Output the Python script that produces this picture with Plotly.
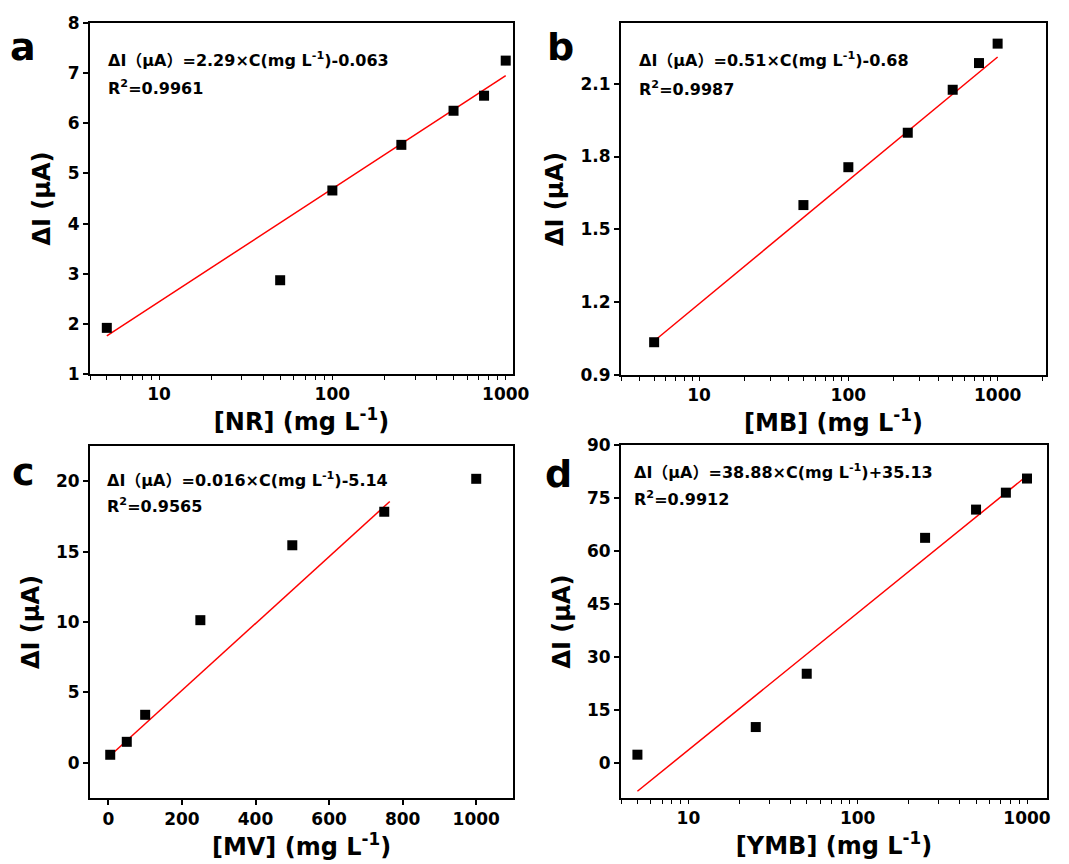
import plotly.graph_objects as go

# ---------------- data ----------------
conc_log = [5, 50, 100, 250, 500, 750, 1000]
nr_dI = [1.92, 2.87, 4.66, 5.57, 6.25, 6.55, 7.25]
nr_fit_x = [5, 1000]
nr_fit_y = [1.76, 6.95]

mb_dI = [1.035, 1.60, 1.756, 1.898, 2.075, 2.185, 2.265]
mb_fit_x = [5, 1000]
mb_fit_y = [1.04, 2.21]

mv_conc = [5, 50, 100, 250, 500, 750, 1000]
mv_dI = [0.57, 1.49, 3.41, 10.13, 15.45, 17.83, 20.17]
mv_fit_x = [15, 765]
mv_fit_y = [0.75, 18.56]

ymb_conc = [5, 25, 50, 250, 500, 750, 1000]
ymb_dI = [2.27, 10.1, 25.2, 63.7, 71.7, 76.5, 80.5]
ymb_fit_x = [5, 1000]
ymb_fit_y = [-8.1, 81.3]

panel_letters = ["a", "b", "c", "d"]
x_titles = ["[NR] (mg L<sup>-1</sup>)", "[MB] (mg L<sup>-1</sup>)",
            "[MV] (mg L<sup>-1</sup>)", "[YMB] (mg L<sup>-1</sup>)"]
y_title = "ΔI (μA)"
equations = ["ΔI（μA）=2.29×C(mg L<sup>-1</sup>)-0.063",
             "ΔI（μA）=0.51×C(mg L<sup>-1</sup>)-0.68",
             "ΔI（μA）=0.016×C(mg L<sup>-1</sup>)-5.14",
             "ΔI（μA）=38.88×C(mg L<sup>-1</sup>)+35.13"]
r2_texts = ["R<sup>2</sup>=0.9961", "R<sup>2</sup>=0.9987",
            "R<sup>2</sup>=0.9565", "R<sup>2</sup>=0.9912"]
log_major_ticks = [10, 100, 1000]
log_major_text = ["10", "100", "1000"]

# ---------------- layout helpers ----------------
OFF = 8                      # page body margin in the browser
W, H = 1069 - OFF, 864 - OFF  # figure size so the page fits the window
FONT = "DejaVu Sans, Noto Sans CJK SC, sans-serif"


def sx(px):
    return (px - OFF) / W


def sy(py):
    return 1 - (py - OFF) / H


# screen pixel boxes: (left, right, top, bottom)
boxes = [(90, 513, 23, 374), (621, 1046, 23, 375),
         (90, 513, 446, 798), (621, 1047, 445, 798)]

fig = go.Figure()

series = [
    (conc_log, nr_dI, nr_fit_x, nr_fit_y),
    (conc_log, mb_dI, mb_fit_x, mb_fit_y),
    (mv_conc, mv_dI, mv_fit_x, mv_fit_y),
    (ymb_conc, ymb_dI, ymb_fit_x, ymb_fit_y),
]

x_types = ["log", "log", "linear", "log"]

for i, (xs, ys, fx, fy) in enumerate(series):
    xa = "x" if i == 0 else f"x{i+1}"
    ya = "y" if i == 0 else f"y{i+1}"
    fig.add_trace(go.Scatter(x=fx, y=fy, mode="lines", xaxis=xa, yaxis=ya,
                             line=dict(color="#ff0000", width=1.5),
                             showlegend=False, hoverinfo="skip"))
    fig.add_trace(go.Scatter(x=xs, y=ys, mode="markers", xaxis=xa, yaxis=ya,
                             marker=dict(symbol="square", size=10, color="black"),
                             showlegend=False))

tickfont = dict(family=FONT, size=17, color="black", weight="bold")
titlefont = dict(family=FONT, size=24, color="black", weight="bold")

x_ranges = [[0.602, 3.042], [0.477, 3.324], [-50, 1100], [0.602, 3.118]]
y_ranges = [[1, 8], [0.9, 2.35], [-2.5, 22.5], [-10, 90]]
y_dticks = [1, 0.3, 5, 15]
y_tick0 = [1, 0.9, 0, 0]

# tick positions for log axes: decades labelled, 2..9 of each decade unlabelled
minor_vals = [m * 10 ** d for d in range(0, 4) for m in range(2, 10)]
log_tickvals = log_major_ticks + minor_vals
log_ticktext = log_major_text + [""] * len(minor_vals)

layout = dict(width=W, height=H,
              margin=dict(l=0, r=0, t=0, b=0, autoexpand=False),
              paper_bgcolor="white", plot_bgcolor="white", showlegend=False)

for i, (l, r, t, b) in enumerate(boxes):
    xk = "xaxis" if i == 0 else f"xaxis{i+1}"
    yk = "yaxis" if i == 0 else f"yaxis{i+1}"
    ya = "y" if i == 0 else f"y{i+1}"
    xa = "x" if i == 0 else f"x{i+1}"
    xdom = [sx(l), sx(r)]
    ydom = [sy(b), sy(t)]
    xax = dict(domain=xdom, anchor=ya, type=x_types[i], range=x_ranges[i],
               automargin=False,
               showline=True, linecolor="black", linewidth=2, mirror=True,
               showgrid=False, zeroline=False, ticks="outside", ticklen=5,
               tickwidth=1.5, tickcolor="black", tickfont=tickfont,
               title=dict(text=x_titles[i], font=titlefont, standoff=0))
    if x_types[i] == "log":
        xax.update(tickmode="array", tickvals=log_tickvals,
                   ticktext=log_ticktext, ticklen=4, tickwidth=1.3)
    else:
        xax.update(dtick=200, tick0=0)
    yax = dict(domain=ydom, anchor=xa, range=y_ranges[i],
               dtick=y_dticks[i], tick0=y_tick0[i], automargin=False,
               showline=True, linecolor="black", linewidth=2, mirror=True,
               showgrid=False, zeroline=False, ticks="outside", ticklen=5,
               tickwidth=1.5, tickcolor="black", tickfont=tickfont,
               title=dict(text=y_title, font=titlefont, standoff=10))
    layout[xk] = xax
    layout[yk] = yax

fig.update_layout(**layout)

# panel letters
letter_pos = [(23, 47), (560, 47), (23, 472), (558, 474)]
for (px, py), letter in zip(letter_pos, panel_letters):
    fig.add_annotation(x=sx(px), y=sy(py), xref="paper", yref="paper",
                       text=letter, showarrow=False, xanchor="center",
                       yanchor="middle",
                       font=dict(family=FONT, size=38, color="black",
                                 weight="bold"))

# equations
eq_pos = [(106, 60, 87), (637, 60, 88), (105, 479, 505), (632, 471, 498)]
annfont = dict(family=FONT, size=16, color="black", weight="bold")
for (px, py1, py2), eq, r2 in zip(eq_pos, equations, r2_texts):
    fig.add_annotation(x=sx(px), y=sy(py1), xref="paper", yref="paper",
                       text=eq, showarrow=False, xanchor="left",
                       yanchor="middle", font=annfont)
    fig.add_annotation(x=sx(px), y=sy(py2), xref="paper", yref="paper",
                       text=r2, showarrow=False, xanchor="left",
                       yanchor="middle", font=annfont)

fig.write_html("out.html")
